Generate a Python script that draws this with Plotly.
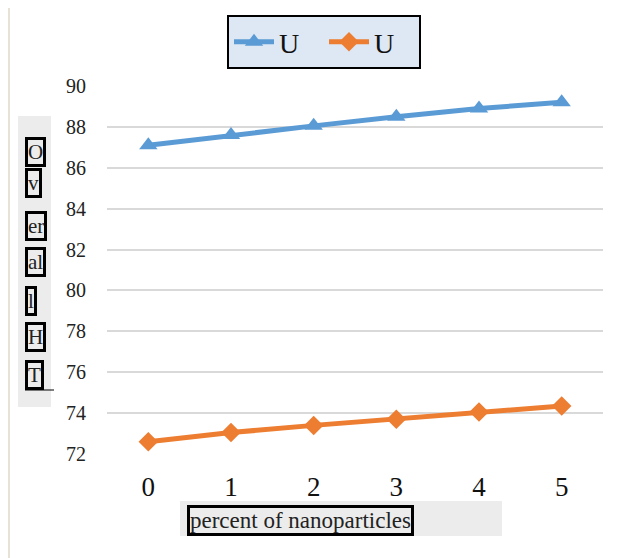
import plotly.graph_objects as go

x_vals = [0, 1, 2, 3, 4, 5]
series1_name = "U"
series1 = [87.1, 87.6, 88.05, 88.5, 88.9, 89.2]
series2_name = "U"
series2 = [72.6, 73.05, 73.4, 73.7, 74.05, 74.35]
y_ticks = [72, 74, 76, 78, 80, 82, 84, 86, 88, 90]
ytitle_parts = ["O", "v", "er", "al", "l", "H", "T"]
xtitle = "percent of nanoparticles"

SERIF = "Liberation Serif, DejaVu Serif, serif"

W, H = 627, 558
OFF = 8  # page body offset
L, R, T, B = 107 - OFF, 24 + OFF, 86 - OFF, 104 + OFF
pw = W - L - R
ph = H - T - B

def px_x(px):
    return (px - OFF - L) / pw

def px_y(py):
    return (H - B - (py - OFF)) / ph

fig = go.Figure()
fig.add_trace(go.Scatter(
    x=x_vals, y=series1, name=series1_name, mode="lines+markers",
    line=dict(color="#5b9bd5", width=5),
    marker=dict(symbol="triangle-up", size=16, color="#5b9bd5"),
))
fig.add_trace(go.Scatter(
    x=x_vals, y=series2, name=series2_name, mode="lines+markers",
    line=dict(color="#ed7d31", width=5),
    marker=dict(symbol="diamond", size=15, color="#ed7d31"),
))

shapes = [
    dict(type="line", xref="paper", yref="paper",
         x0=px_x(9), x1=px_x(9), y0=px_y(8), y1=px_y(H + 8),
         line=dict(color="#e6e2d6", width=2)),
    dict(type="rect", xref="paper", yref="paper",
         x0=px_x(18), x1=px_x(51), y0=px_y(407), y1=px_y(116),
         fillcolor="#ececec", line=dict(width=0), layer="below"),
    dict(type="line", xref="paper", yref="paper",
         x0=px_x(25), x1=px_x(54), y0=px_y(390), y1=px_y(390),
         line=dict(color="#000000", width=1)),
    dict(type="rect", xref="paper", yref="paper",
         x0=px_x(180), x1=px_x(502), y0=px_y(536), y1=px_y(501),
         fillcolor="#ececec", line=dict(width=0), layer="below"),
]

annotations = []
centers = [152, 183, 226, 262, 301, 337, 375]
for txt, cy in zip(ytitle_parts, centers):
    annotations.append(dict(
        text=txt, xref="paper", yref="paper", x=px_x(25), y=px_y(cy),
        xanchor="left", yanchor="middle", showarrow=False,
        font=dict(family=SERIF, size=21, color="#222"),
        bordercolor="#000", borderwidth=3, borderpad=0, bgcolor="#ececec",
    ))
annotations.append(dict(
    text=xtitle, xref="paper", yref="paper", x=px_x(187), y=px_y(520),
    xanchor="left", yanchor="middle", showarrow=False,
    font=dict(family=SERIF, size=23, color="#222"),
    bordercolor="#000", borderwidth=3, borderpad=0, bgcolor="#ececec",
))

fig.update_layout(
    width=W, height=H,
    margin=dict(l=L, r=R, t=T, b=B, autoexpand=False),
    paper_bgcolor="white", plot_bgcolor="white",
    font=dict(family=SERIF, color="#222"),
    showlegend=True,
    legend=dict(
        orientation="h", x=px_x(227), y=px_y(15), xanchor="left", yanchor="top",
        bgcolor="#dde8f4", bordercolor="#000", borderwidth=2,
        font=dict(family=SERIF, size=28, color="#111"),
        itemwidth=40, entrywidth=40, tracegroupgap=0,
    ),
    shapes=shapes,
    annotations=annotations,
)
fig.update_xaxes(
    range=[-0.5, 5.5], tickvals=x_vals, showgrid=False, zeroline=False,
    showline=False, ticks="", tickfont=dict(family=SERIF, size=27, color="#111"),
    ticklabelstandoff=14,
)
fig.update_yaxes(
    range=[72, 90], tickvals=y_ticks, showgrid=True, gridcolor="#d9d9d9",
    gridwidth=2, zeroline=False, showline=False, ticks="",
    tickfont=dict(family=SERIF, size=20, color="#222"),
    ticklabelstandoff=20,
)

fig.write_html("out.html")
